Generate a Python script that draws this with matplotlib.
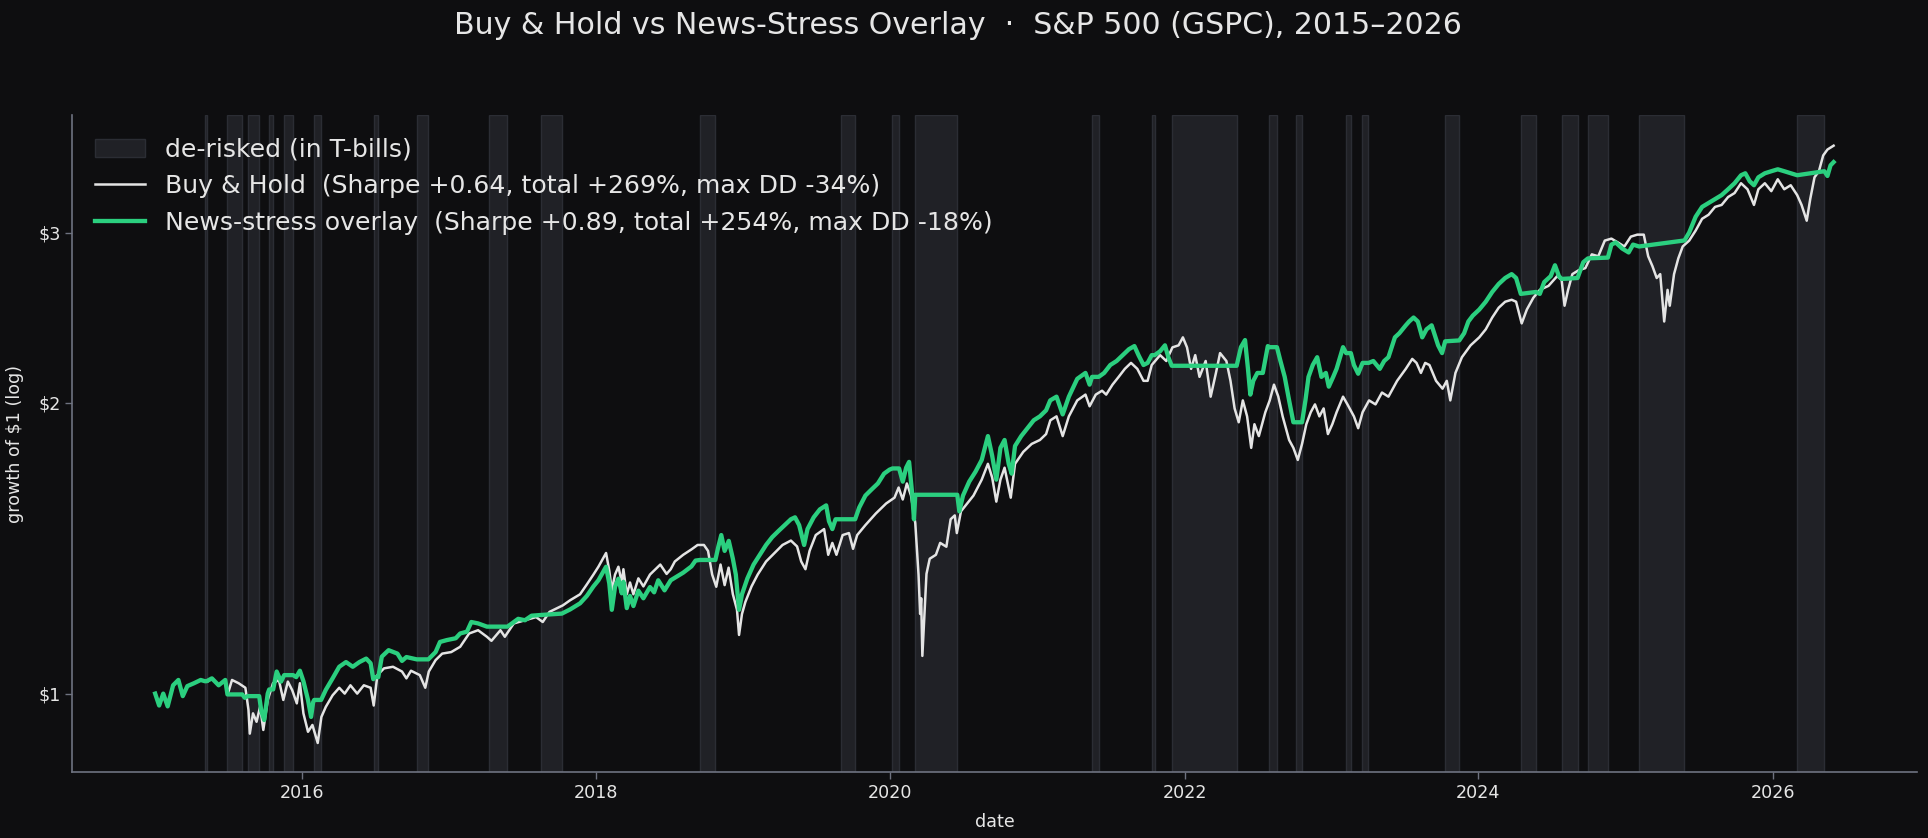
import numpy as np
import matplotlib
matplotlib.use("Agg")
import matplotlib.pyplot as plt
import matplotlib.dates as mdates
from matplotlib.ticker import FixedLocator, FixedFormatter, NullLocator
from datetime import datetime

# ---------------- data (decimal years, growth of $1) ----------------
bh_t = [2015.000, 2015.027, 2015.055, 2015.085, 2015.122, 2015.158, 2015.188, 2015.219, 2015.264, 2015.310,
        2015.356, 2015.386, 2015.432, 2015.477, 2015.495, 2015.523, 2015.568, 2015.614, 2015.635, 2015.644,
        2015.666, 2015.690, 2015.714, 2015.736, 2015.766, 2015.802, 2015.842, 2015.872, 2015.903, 2015.933,
        2015.964, 2015.985, 2016.009, 2016.040, 2016.070, 2016.106, 2016.131, 2016.161, 2016.207, 2016.252,
        2016.289, 2016.328, 2016.374, 2016.419, 2016.465, 2016.486, 2016.511, 2016.556, 2016.617, 2016.678,
        2016.708, 2016.739, 2016.799, 2016.836, 2016.860, 2016.906, 2016.951, 2017.012, 2017.073, 2017.134,
        2017.195, 2017.255, 2017.286, 2017.347, 2017.377, 2017.438, 2017.514, 2017.590, 2017.635, 2017.681,
        2017.772, 2017.821, 2017.889, 2017.935, 2017.980, 2018.014, 2018.066, 2018.088, 2018.105, 2018.127,
        2018.150, 2018.173, 2018.184, 2018.207, 2018.229, 2018.252, 2018.286, 2018.320, 2018.365, 2018.435,
        2018.478, 2018.506, 2018.534, 2018.591, 2018.647, 2018.689, 2018.732, 2018.760, 2018.788, 2018.816,
        2018.845, 2018.873, 2018.900, 2018.929, 2018.957, 2018.971, 2018.991, 2019.014, 2019.056, 2019.098,
        2019.155, 2019.211, 2019.267, 2019.324, 2019.366, 2019.394, 2019.423, 2019.451, 2019.493, 2019.550,
        2019.578, 2019.606, 2019.634, 2019.676, 2019.719, 2019.747, 2019.775, 2019.831, 2019.902, 2019.972,
        2020.029, 2020.057, 2020.085, 2020.113, 2020.141, 2020.170, 2020.192, 2020.203, 2020.210, 2020.218,
        2020.232, 2020.246, 2020.268, 2020.310, 2020.339, 2020.381, 2020.410, 2020.438, 2020.452, 2020.480,
        2020.522, 2020.565, 2020.621, 2020.663, 2020.692, 2020.720, 2020.748, 2020.776, 2020.818, 2020.847,
        2020.903, 2020.960, 2021.016, 2021.058, 2021.087, 2021.129, 2021.171, 2021.213, 2021.270, 2021.326,
        2021.354, 2021.396, 2021.439, 2021.467, 2021.510, 2021.552, 2021.594, 2021.636, 2021.679, 2021.721,
        2021.749, 2021.777, 2021.834, 2021.876, 2021.918, 2021.960, 2021.989, 2022.017, 2022.045, 2022.073,
        2022.102, 2022.144, 2022.178, 2022.214, 2022.242, 2022.285, 2022.313, 2022.341, 2022.369, 2022.397,
        2022.426, 2022.454, 2022.476, 2022.506, 2022.550, 2022.580, 2022.609, 2022.638, 2022.668, 2022.712,
        2022.741, 2022.771, 2022.800, 2022.829, 2022.859, 2022.888, 2022.918, 2022.947, 2022.976, 2023.006,
        2023.035, 2023.079, 2023.109, 2023.153, 2023.182, 2023.212, 2023.256, 2023.300, 2023.344, 2023.388,
        2023.447, 2023.506, 2023.550, 2023.579, 2023.609, 2023.638, 2023.667, 2023.712, 2023.756, 2023.785,
        2023.809, 2023.844, 2023.888, 2023.947, 2024.006, 2024.050, 2024.094, 2024.138, 2024.182, 2024.226,
        2024.256, 2024.294, 2024.329, 2024.373, 2024.417, 2024.476, 2024.535, 2024.565, 2024.585, 2024.609,
        2024.638, 2024.682, 2024.726, 2024.770, 2024.814, 2024.858, 2024.903, 2024.947, 2024.991, 2025.035,
        2025.079, 2025.123, 2025.153, 2025.182, 2025.211, 2025.235, 2025.262, 2025.285, 2025.300, 2025.329,
        2025.358, 2025.388, 2025.432, 2025.476, 2025.520, 2025.564, 2025.608, 2025.653, 2025.697, 2025.741,
        2025.785, 2025.829, 2025.873, 2025.903, 2025.947, 2025.991, 2026.035, 2026.079, 2026.123, 2026.167,
        2026.197, 2026.232, 2026.256, 2026.285, 2026.315, 2026.344, 2026.373, 2026.415]
bh_v = [1.000, 0.972, 1.000, 0.970, 1.020, 1.033, 0.994, 1.018, 1.025, 1.033,
        1.029, 1.037, 1.020, 1.033, 1.000, 1.033, 1.025, 1.014, 0.962, 0.909,
        0.954, 0.935, 0.969, 0.917, 0.985, 1.025, 1.033, 0.985, 1.029, 1.008,
        0.977, 1.025, 0.954, 0.913, 0.928, 0.889, 0.946, 0.969, 0.996, 1.014,
        1.000, 1.020, 1.000, 1.020, 1.014, 0.972, 1.045, 1.062, 1.066, 1.054,
        1.037, 1.056, 1.045, 1.014, 1.054, 1.083, 1.100, 1.104, 1.118, 1.154,
        1.163, 1.145, 1.134, 1.163, 1.145, 1.182, 1.191, 1.200, 1.186, 1.215,
        1.234, 1.249, 1.267, 1.297, 1.328, 1.353, 1.398, 1.340, 1.279, 1.328,
        1.353, 1.303, 1.345, 1.267, 1.303, 1.267, 1.316, 1.291, 1.328, 1.360,
        1.330, 1.345, 1.370, 1.392, 1.410, 1.425, 1.425, 1.405, 1.328, 1.290,
        1.360, 1.295, 1.350, 1.267, 1.221, 1.150, 1.209, 1.244, 1.291, 1.328,
        1.370, 1.397, 1.425, 1.440, 1.420, 1.370, 1.345, 1.405, 1.459, 1.480,
        1.392, 1.432, 1.392, 1.459, 1.466, 1.412, 1.459, 1.494, 1.536, 1.573,
        1.595, 1.634, 1.588, 1.650, 1.603, 1.501, 1.328, 1.209, 1.255, 1.094,
        1.209, 1.330, 1.379, 1.392, 1.432, 1.419, 1.515, 1.529, 1.466, 1.544,
        1.573, 1.603, 1.665, 1.729, 1.673, 1.580, 1.665, 1.713, 1.595, 1.729,
        1.779, 1.813, 1.830, 1.856, 1.918, 1.936, 1.847, 1.936, 2.011, 2.039,
        1.983, 2.039, 2.058, 2.039, 2.088, 2.127, 2.168, 2.199, 2.168, 2.107,
        2.107, 2.188, 2.240, 2.209, 2.282, 2.293, 2.337, 2.282, 2.168, 2.240,
        2.127, 2.209, 2.029, 2.147, 2.251, 2.209, 2.107, 1.973, 1.909, 2.011,
        1.936, 1.796, 1.900, 1.847, 1.955, 2.011, 2.088, 2.030, 1.936, 1.830,
        1.796, 1.745, 1.813, 1.900, 1.955, 1.992, 1.936, 1.973, 1.856, 1.900,
        1.955, 2.029, 1.992, 1.936, 1.882, 1.955, 2.011, 1.992, 2.049, 2.029,
        2.107, 2.168, 2.220, 2.199, 2.147, 2.199, 2.188, 2.107, 2.068, 2.107,
        2.011, 2.147, 2.229, 2.293, 2.337, 2.382, 2.450, 2.508, 2.544, 2.556,
        2.544, 2.416, 2.497, 2.568, 2.617, 2.642, 2.704, 2.680, 2.520, 2.617,
        2.717, 2.743, 2.756, 2.848, 2.835, 2.943, 2.957, 2.930, 2.902, 2.971,
        2.985, 2.985, 2.835, 2.769, 2.692, 2.717, 2.427, 2.617, 2.520, 2.717,
        2.821, 2.902, 2.943, 3.014, 3.100, 3.130, 3.189, 3.204, 3.265, 3.296,
        3.374, 3.326, 3.204, 3.326, 3.374, 3.311, 3.406, 3.326, 3.358, 3.280,
        3.204, 3.086, 3.250, 3.422, 3.472, 3.605, 3.656, 3.690]

ov_t = [2015.000, 2015.027, 2015.055, 2015.085, 2015.122, 2015.158, 2015.188, 2015.219, 2015.264, 2015.310,
        2015.338, 2015.350, 2015.386, 2015.432, 2015.477, 2015.492, 2015.593, 2015.610, 2015.629, 2015.708,
        2015.722, 2015.742, 2015.766, 2015.776, 2015.803, 2015.827, 2015.857, 2015.878, 2015.939, 2015.960,
        2015.985, 2016.009, 2016.040, 2016.061, 2016.075, 2016.082, 2016.129, 2016.161, 2016.207, 2016.252,
        2016.298, 2016.344, 2016.389, 2016.435, 2016.465, 2016.483, 2016.490, 2016.517, 2016.541, 2016.587,
        2016.647, 2016.678, 2016.708, 2016.778, 2016.857, 2016.906, 2016.936, 2016.982, 2017.043, 2017.073,
        2017.119, 2017.149, 2017.195, 2017.255, 2017.272, 2017.395, 2017.468, 2017.514, 2017.559, 2017.622,
        2017.765, 2017.821, 2017.889, 2017.935, 2017.980, 2018.014, 2018.066, 2018.088, 2018.105, 2018.127,
        2018.150, 2018.173, 2018.184, 2018.207, 2018.229, 2018.252, 2018.286, 2018.320, 2018.365, 2018.393,
        2018.421, 2018.464, 2018.506, 2018.548, 2018.591, 2018.647, 2018.675, 2018.706, 2018.810, 2018.830,
        2018.850, 2018.873, 2018.901, 2018.929, 2018.949, 2018.971, 2018.991, 2019.028, 2019.070, 2019.112,
        2019.155, 2019.197, 2019.239, 2019.282, 2019.324, 2019.352, 2019.380, 2019.403, 2019.414, 2019.437,
        2019.479, 2019.521, 2019.564, 2019.583, 2019.606, 2019.628, 2019.663, 2019.761, 2019.789, 2019.831,
        2019.874, 2019.916, 2019.958, 2019.995, 2020.015, 2020.060, 2020.085, 2020.108, 2020.128, 2020.150,
        2020.161, 2020.170, 2020.455, 2020.469, 2020.494, 2020.536, 2020.579, 2020.621, 2020.663, 2020.692,
        2020.720, 2020.748, 2020.776, 2020.804, 2020.824, 2020.847, 2020.889, 2020.931, 2020.974, 2021.016,
        2021.058, 2021.086, 2021.129, 2021.171, 2021.213, 2021.270, 2021.326, 2021.354, 2021.371, 2021.416,
        2021.453, 2021.495, 2021.538, 2021.580, 2021.622, 2021.659, 2021.687, 2021.721, 2021.749, 2021.777,
        2021.797, 2021.834, 2021.867, 2021.890, 2021.913, 2022.355, 2022.384, 2022.412, 2022.432, 2022.448,
        2022.468, 2022.496, 2022.533, 2022.567, 2022.578, 2022.629, 2022.653, 2022.682, 2022.712, 2022.741,
        2022.759, 2022.800, 2022.823, 2022.844, 2022.873, 2022.903, 2022.932, 2022.962, 2022.982, 2023.012,
        2023.035, 2023.079, 2023.100, 2023.132, 2023.153, 2023.182, 2023.212, 2023.253, 2023.285, 2023.329,
        2023.359, 2023.388, 2023.432, 2023.462, 2023.506, 2023.529, 2023.559, 2023.588, 2023.618, 2023.647,
        2023.682, 2023.726, 2023.753, 2023.774, 2023.870, 2023.903, 2023.932, 2023.962, 2024.006, 2024.050,
        2024.094, 2024.138, 2024.182, 2024.226, 2024.256, 2024.288, 2024.391, 2024.417, 2024.447, 2024.491,
        2024.520, 2024.547, 2024.565, 2024.673, 2024.712, 2024.744, 2024.879, 2024.903, 2024.932, 2024.976,
        2025.020, 2025.050, 2025.091, 2025.400, 2025.432, 2025.476, 2025.520, 2025.564, 2025.608, 2025.653,
        2025.697, 2025.741, 2025.785, 2025.814, 2025.844, 2025.873, 2025.903, 2025.947, 2025.991, 2026.035,
        2026.079, 2026.123, 2026.167, 2026.352, 2026.373, 2026.394, 2026.415]
ov_v = [1.000, 0.972, 1.000, 0.970, 1.020, 1.033, 0.994, 1.018, 1.025, 1.033,
        1.030, 1.030, 1.037, 1.020, 1.033, 0.998, 0.998, 0.990, 0.994, 0.994,
        0.960, 0.939, 1.000, 1.010, 1.010, 1.054, 1.029, 1.045, 1.045, 1.040,
        1.056, 1.030, 0.985, 0.946, 0.980, 0.985, 0.985, 1.009, 1.037, 1.066,
        1.078, 1.066, 1.078, 1.087, 1.075, 1.035, 1.040, 1.040, 1.092, 1.109,
        1.100, 1.081, 1.091, 1.085, 1.085, 1.104, 1.131, 1.136, 1.141, 1.154,
        1.159, 1.186, 1.182, 1.173, 1.173, 1.173, 1.195, 1.191, 1.204, 1.206,
        1.210, 1.222, 1.240, 1.262, 1.291, 1.310, 1.353, 1.300, 1.221, 1.290,
        1.315, 1.270, 1.305, 1.226, 1.262, 1.232, 1.278, 1.255, 1.289, 1.273,
        1.310, 1.279, 1.310, 1.322, 1.334, 1.354, 1.373, 1.375, 1.375, 1.419,
        1.459, 1.405, 1.439, 1.379, 1.328, 1.221, 1.267, 1.316, 1.360, 1.392,
        1.425, 1.452, 1.473, 1.494, 1.515, 1.522, 1.494, 1.446, 1.425, 1.480,
        1.522, 1.551, 1.566, 1.508, 1.480, 1.515, 1.515, 1.515, 1.558, 1.603,
        1.627, 1.650, 1.689, 1.705, 1.710, 1.710, 1.657, 1.713, 1.737, 1.603,
        1.515, 1.606, 1.606, 1.544, 1.603, 1.657, 1.697, 1.745, 1.847, 1.762,
        1.665, 1.796, 1.830, 1.729, 1.689, 1.804, 1.847, 1.882, 1.918, 1.936,
        1.964, 2.011, 2.029, 1.945, 2.029, 2.117, 2.147, 2.088, 2.127, 2.127,
        2.147, 2.188, 2.209, 2.240, 2.272, 2.289, 2.240, 2.188, 2.199, 2.240,
        2.240, 2.261, 2.293, 2.229, 2.184, 2.184, 2.283, 2.322, 2.168, 2.039,
        2.107, 2.147, 2.147, 2.289, 2.283, 2.283, 2.209, 2.127, 2.011, 1.909,
        1.909, 1.909, 2.011, 2.127, 2.188, 2.229, 2.127, 2.147, 2.078, 2.127,
        2.168, 2.283, 2.251, 2.251, 2.188, 2.143, 2.199, 2.199, 2.209, 2.168,
        2.209, 2.229, 2.337, 2.360, 2.405, 2.427, 2.450, 2.427, 2.337, 2.382,
        2.405, 2.293, 2.251, 2.315, 2.320, 2.360, 2.427, 2.461, 2.497, 2.544,
        2.604, 2.654, 2.692, 2.717, 2.692, 2.592, 2.604, 2.592, 2.666, 2.704,
        2.775, 2.704, 2.686, 2.692, 2.795, 2.821, 2.826, 2.915, 2.930, 2.888,
        2.861, 2.915, 2.902, 2.944, 3.000, 3.115, 3.189, 3.219, 3.250, 3.280,
        3.326, 3.374, 3.439, 3.455, 3.390, 3.358, 3.422, 3.455, 3.472, 3.488,
        3.472, 3.455, 3.439, 3.472, 3.433, 3.521, 3.548]

span_start = [2015.338, 2015.492, 2015.629, 2015.776, 2015.878, 2016.082, 2016.490, 2016.778, 2017.272,
              2017.622, 2018.705, 2019.663, 2020.014, 2020.168, 2021.370, 2021.778, 2021.914, 2022.578,
              2022.758, 2023.100, 2023.211, 2023.774, 2024.289, 2024.565, 2024.744, 2025.091, 2026.166]
span_end = [2015.350, 2015.592, 2015.707, 2015.803, 2015.939, 2016.129, 2016.517, 2016.857, 2017.395,
            2017.765, 2018.810, 2019.762, 2020.061, 2020.456, 2021.415, 2021.798, 2022.356, 2022.629,
            2022.799, 2023.132, 2023.252, 2023.869, 2024.391, 2024.673, 2024.878, 2025.399, 2026.352]

y_ticks = [1, 2, 3]
y_tick_labels = ["$1", "$2", "$3"]

title = "Buy & Hold vs News-Stress Overlay  \u00b7  S&P 500 (GSPC), 2015\u20132026"
lab_span = "de-risked (in T-bills)"
lab_bh = "Buy & Hold  (Sharpe +0.64, total +269%, max DD -34%)"
lab_ov = "News-stress overlay  (Sharpe +0.89, total +254%, max DD -18%)"

# ---------------- helpers ----------------
def yr2dt(y):
    yr = int(np.floor(y))
    a = datetime(yr, 1, 1)
    b = datetime(yr + 1, 1, 1)
    return a + (b - a) * (y - yr)

BG = "#0e0e10"
TXT = "#e6e6e6"
SPINE = "#6e7280"
SPAN_FC = "#202126"
SPAN_EC = "#2b2d34"
WHITE = "#e4e4e4"
GREEN = "#2bcf7f"

plt.rcParams['font.family'] = ['DejaVu Sans']

fig = plt.figure(figsize=(19.28, 8.38), dpi=100, facecolor=BG)
ax = fig.add_axes([0.0375, 0.0784, 0.9566, 0.7844])
ax.set_facecolor(BG)

span_handle = None
for s, e in zip(span_start, span_end):
    h = ax.axvspan(yr2dt(s), yr2dt(e), facecolor=SPAN_FC, edgecolor=SPAN_EC, lw=1.0, zorder=0)
    if span_handle is None:
        span_handle = h

bh_dates = [yr2dt(t) for t in bh_t]
ov_dates = [yr2dt(t) for t in ov_t]
l1, = ax.plot(bh_dates, bh_v, color=WHITE, lw=1.8, zorder=2)
l2, = ax.plot(ov_dates, ov_v, color=GREEN, lw=3.1, zorder=3)

ax.set_yscale('log')
ax.set_ylim(0.829, 3.97)
ax.set_xlim(yr2dt(2014.436), yr2dt(2026.98))
ax.yaxis.set_major_locator(FixedLocator(y_ticks))
ax.yaxis.set_major_formatter(FixedFormatter(y_tick_labels))
ax.yaxis.set_minor_locator(NullLocator())
ax.xaxis.set_major_locator(mdates.YearLocator(2))
ax.xaxis.set_major_formatter(mdates.DateFormatter('%Y'))
ax.xaxis.set_minor_locator(NullLocator())

for sp in ['top', 'right']:
    ax.spines[sp].set_visible(False)
for sp in ['left', 'bottom']:
    ax.spines[sp].set_color(SPINE)
    ax.spines[sp].set_linewidth(1.2)
ax.tick_params(colors=SPINE, labelcolor=TXT, labelsize=12.6, length=5, width=1.0)

ax.set_xlabel("date", color=TXT, fontsize=12.6, labelpad=8)
ax.set_ylabel("growth of $1 (log)", color=TXT, fontsize=12.6, labelpad=10)

leg = ax.legend([span_handle, l1, l2], [lab_span, lab_bh, lab_ov], loc='upper left',
                fontsize=18.1, frameon=False)
for t in leg.get_texts():
    t.set_color(TXT)

fig.text(0.497, 1 - 25 / 838, title, ha='center', va='center', color=TXT, fontsize=21.6)

fig.savefig("out.png", dpi=100, facecolor=BG)
